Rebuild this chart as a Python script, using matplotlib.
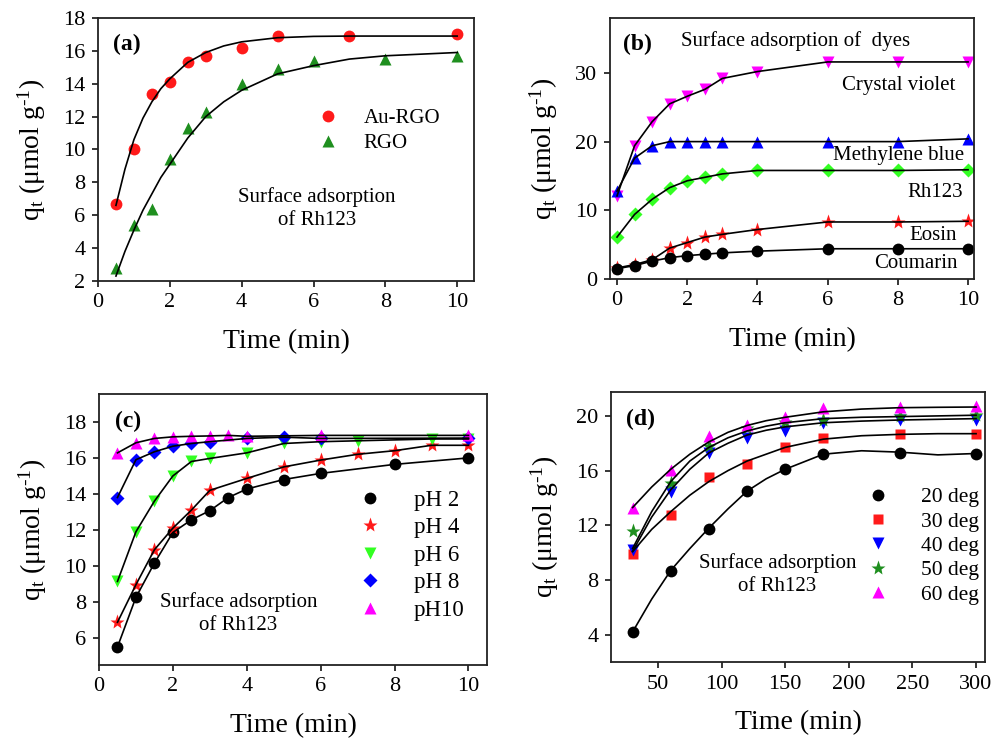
import numpy as np
import matplotlib
matplotlib.use('Agg')
import matplotlib.pyplot as plt

plt.rcParams['font.family'] = ['Liberation Serif', 'DejaVu Serif']
plt.rcParams['mathtext.fontset'] = 'custom'
plt.rcParams['mathtext.rm'] = 'Liberation Serif'
plt.rcParams['mathtext.it'] = 'Liberation Serif:italic'

# ---- panel (a) ----
ta_au = [0.5, 1, 1.5, 2, 2.5, 3, 4, 5, 7, 10]
qa_au = [6.7, 10.0, 13.4, 14.1, 15.3, 15.7, 16.2, 16.9, 16.9, 17.0]
ta_rgo = [0.5, 1, 1.5, 2, 2.5, 3, 4, 5, 6, 8, 10]
qa_rgo = [2.8, 5.4, 6.4, 9.4, 11.3, 12.3, 14.0, 14.9, 15.4, 15.5, 15.7]
# fitted curves
fa_t = [0.5, 0.75, 1, 1.25, 1.5, 1.75, 2, 2.5, 3, 3.5, 4, 5, 6, 7, 8, 10]
fa_au = [6.6, 8.8, 10.6, 11.9, 12.9, 13.7, 14.3, 15.3, 15.9, 16.3, 16.55, 16.8, 16.88, 16.9, 16.9, 16.9]
fa_rgo = [2.3, 3.8, 5.1, 6.3, 7.3, 8.3, 9.1, 10.7, 12.0, 12.9, 13.6, 14.6, 15.1, 15.5, 15.7, 15.9]

# ---- panel (b) ----
tb = [0, 0.5, 1, 1.5, 2, 2.5, 3, 4, 6, 8, 10]
qb_cv = [12.1, 19.4, 22.9, 25.5, 26.6, 27.6, 29.2, 30.2, 31.6, 31.6, 31.6]
qb_mb = [12.8, 17.6, 19.4, 20.0, 20.0, 20.0, 20.0, 20.0, 20.0, 20.0, 20.4]
qb_rh = [6.1, 9.4, 11.6, 13.3, 14.3, 14.8, 15.3, 15.8, 15.8, 15.8, 15.9]
qb_eo = [1.6, 2.1, 2.8, 4.5, 5.3, 6.1, 6.5, 7.2, 8.3, 8.3, 8.4]
qb_co = [1.5, 1.95, 2.6, 3.1, 3.4, 3.6, 3.8, 4.05, 4.4, 4.4, 4.4]

# ---- panel (c) ----
tc_2 = [0.5, 1, 1.5, 2, 2.5, 3, 3.5, 4, 5, 6, 8, 10]
qc_2 = [5.5, 8.26, 10.16, 11.86, 12.56, 13.07, 13.8, 14.27, 14.8, 15.14, 15.64, 16.0]
tc_4 = [0.5, 1, 1.5, 2, 2.5, 3, 4, 5, 6, 7, 8, 9, 10]
qc_4 = [6.87, 8.96, 10.9, 12.1, 13.1, 14.2, 14.86, 15.5, 15.88, 16.2, 16.4, 16.7, 16.7]
tc_6 = [0.5, 1, 1.5, 2, 2.5, 3, 4, 5, 6, 7, 9, 10]
qc_6 = [9.14, 11.9, 13.6, 15.0, 15.8, 15.97, 16.28, 16.8, 16.9, 16.95, 17.05, 17.05]
tc_8 = [0.5, 1, 1.5, 2, 2.5, 3, 4, 5, 6, 10]
qc_8 = [13.8, 15.9, 16.34, 16.65, 16.8, 16.9, 17.08, 17.15, 17.08, 17.1]
tc_10 = [0.5, 1, 1.5, 2, 2.5, 3, 3.5, 4, 6, 10]
qc_10 = [16.28, 16.84, 17.08, 17.17, 17.2, 17.22, 17.25, 17.2, 17.25, 17.25]

# ---- panel (d) ----
td = [30, 60, 90, 120, 150, 180, 240, 300]
qd_20 = [4.19, 8.66, 11.73, 14.5, 16.08, 17.2, 17.3, 17.25]
qd_30 = [9.88, 12.75, 15.5, 16.45, 17.74, 18.35, 18.64, 18.7]
qd_40 = [10.2, 14.45, 17.3, 18.4, 18.9, 19.5, 19.7, 19.7]
qd_50 = [11.6, 15.06, 17.8, 19.1, 19.56, 19.7, 20.0, 20.05]
qd_60 = [13.3, 16.03, 18.5, 19.3, 19.9, 20.6, 20.66, 20.7]
# fitted curves
fd_t = [30, 45, 60, 75, 90, 105, 120, 135, 150, 180, 210, 240, 270, 300]
fd_20 = [4.2, 6.6, 8.7, 10.3, 11.8, 13.2, 14.5, 15.4, 16.1, 17.2, 17.45, 17.35, 17.15, 17.25]
fd_30 = [10.07, 11.7, 13.0, 14.2, 15.2, 16.0, 16.7, 17.2, 17.7, 18.3, 18.55, 18.65, 18.7, 18.7]
fd_40 = [10.1, 12.6, 14.6, 16.1, 17.3, 18.0, 18.6, 18.95, 19.2, 19.5, 19.62, 19.7, 19.75, 19.8]
fd_50 = [10.3, 13.0, 15.2, 16.7, 17.7, 18.4, 18.9, 19.25, 19.5, 19.8, 19.9, 19.95, 20.0, 20.05]
fd_60 = [13.3, 14.8, 16.1, 17.2, 18.1, 18.8, 19.3, 19.65, 19.9, 20.3, 20.5, 20.6, 20.63, 20.65]

RED = '#ff1a1a'
GREEN_D = '#1f8f1f'
LIME = '#33ff22'
BLUE = '#0000ff'
MAG = '#ff00ff'

fig = plt.figure(figsize=(9.93, 7.4), dpi=100)
axa = fig.add_axes([0.0987, 0.6203, 0.3787, 0.3554])
axb = fig.add_axes([0.6143, 0.6230, 0.3666, 0.3527])
axc = fig.add_axes([0.0997, 0.1014, 0.3907, 0.3662])
axd = fig.add_axes([0.6153, 0.1054, 0.3766, 0.3649])

ylab = r'q$_\mathregular{t}$ (μmol g$^{\text{-1}}$)'
for ax in (axa, axb, axc, axd):
    for s in ax.spines.values():
        s.set_linewidth(1.3)
        s.set_color('#222222')
    ax.tick_params(direction='out', length=4, width=1.1, labelsize=16,
                   top=False, right=False, pad=5)
    ax.set_xlabel('Time (min)', fontsize=20, labelpad=12)
    ax.set_ylabel(ylab, fontsize=20, labelpad=11)

ms = 8.5
lkw = dict(color='black', lw=1.2, zorder=3)
tkw = dict(fontsize=15, ha='center', va='center', linespacing=1.3)

# (a)
axa.plot(ta_au, qa_au, 'o', color=RED, ms=ms, mec='none', label='Au-RGO', zorder=2)
axa.plot(ta_rgo, qa_rgo, '^', color=GREEN_D, ms=ms, mec='none', label='RGO', zorder=2)
axa.plot(fa_t, fa_au, **lkw)
axa.plot(fa_t, fa_rgo, **lkw)
axa.set_xlim(0, 10.47)
axa.set_ylim(2, 18)
axa.set_xticks(range(0, 11, 2))
axa.set_yticks(range(2, 19, 2))
axa.legend(loc='center left', bbox_to_anchor=(0.585, 0.57), frameon=False,
           fontsize=15, handlelength=1.0, handletextpad=1.2, labelspacing=0.25,
           borderpad=0, borderaxespad=0)
axa.text(6.1, 6.4, 'Surface adsorption\nof Rh123', **tkw)
axa.text(0.04, 0.9, '(a)', transform=axa.transAxes, fontsize=17, fontweight='bold',
         va='center')

# (b)
series_b = [(qb_cv, 'v', MAG, ms), (qb_mb, '^', BLUE, ms), (qb_rh, 'D', LIME, 7),
            (qb_eo, '*', RED, 11), (qb_co, 'o', 'black', ms)]
for q, m, c, s in series_b:
    axb.plot(tb, q, m, color=c, ms=s, mec='none', zorder=2)
    axb.plot(tb, q, **lkw)
axb.set_xlim(-0.2, 10.17)
axb.set_ylim(0, 38)
axb.set_xticks(range(0, 11, 2))
axb.set_yticks([0, 10, 20, 30])
axb.text(0.035, 0.9, '(b)', transform=axb.transAxes, fontsize=17, fontweight='bold',
         va='center')
bkw = dict(fontsize=15, ha='right', va='center')
axb.text(5.1, 34.6, 'Surface adsorption of  dyes', fontsize=15, ha='center', va='center')
axb.text(9.63, 28.2, 'Crystal violet', **bkw)
axb.text(9.9, 18.0, 'Methylene blue', **bkw)
axb.text(9.86, 12.6, 'Rh123', **bkw)
axb.text(9.69, 6.3, 'Eosin', **bkw)
axb.text(9.69, 2.3, 'Coumarin', **bkw)

# (c)
series_c = [(tc_2, qc_2, 'o', 'black', ms, 'pH 2'), (tc_4, qc_4, '*', RED, 11, 'pH 4'),
            (tc_6, qc_6, 'v', LIME, ms, 'pH 6'), (tc_8, qc_8, 'D', BLUE, 7, 'pH 8'),
            (tc_10, qc_10, '^', MAG, ms, 'pH10')]
for t, q, m, c, s, lab in series_c:
    axc.plot(t, q, m, color=c, ms=s, mec='none', label=lab, zorder=2)
    axc.plot(t, q, **lkw)
axc.set_xlim(0, 10.5)
axc.set_ylim(4.5, 19.55)
axc.set_xticks(range(0, 11, 2))
axc.set_yticks(range(6, 19, 2))
axc.legend(loc='center left', bbox_to_anchor=(0.67, 0.405), frameon=False,
           fontsize=16.5, handlelength=1.0, handletextpad=1.4, labelspacing=0.28,
           borderpad=0, borderaxespad=0)
axc.text(3.77, 7.36, 'Surface adsorption\nof Rh123', **tkw)
axc.text(0.04, 0.9, '(c)', transform=axc.transAxes, fontsize=17, fontweight='bold',
         va='center')

# (d)
series_d = [(qd_20, fd_20, 'o', 'black', ms, '20 deg'), (qd_30, fd_30, 's', RED, 7.5, '30 deg'),
            (qd_40, fd_40, 'v', BLUE, ms, '40 deg'), (qd_50, fd_50, '*', GREEN_D, 11, '50 deg'),
            (qd_60, fd_60, '^', MAG, ms, '60 deg')]
for q, f, m, c, s, lab in series_d:
    axd.plot(td, q, m, color=c, ms=s, mec='none', label=lab, zorder=2)
    axd.plot(fd_t, f, **lkw)
axd.set_xlim(13, 307)
axd.set_ylim(2, 21.75)
axd.set_xticks(range(50, 301, 50))
axd.set_yticks(range(4, 21, 4))
axd.legend(loc='center left', bbox_to_anchor=(0.685, 0.43), frameon=False,
           fontsize=15.5, handlelength=1.0, handletextpad=1.5, labelspacing=0.2,
           borderpad=0, borderaxespad=0)
axd.text(144, 8.4, 'Surface adsorption\nof Rh123', **tkw)
axd.text(0.04, 0.9, '(d)', transform=axd.transAxes, fontsize=17, fontweight='bold',
         va='center')

fig.savefig('out.png', dpi=100)
